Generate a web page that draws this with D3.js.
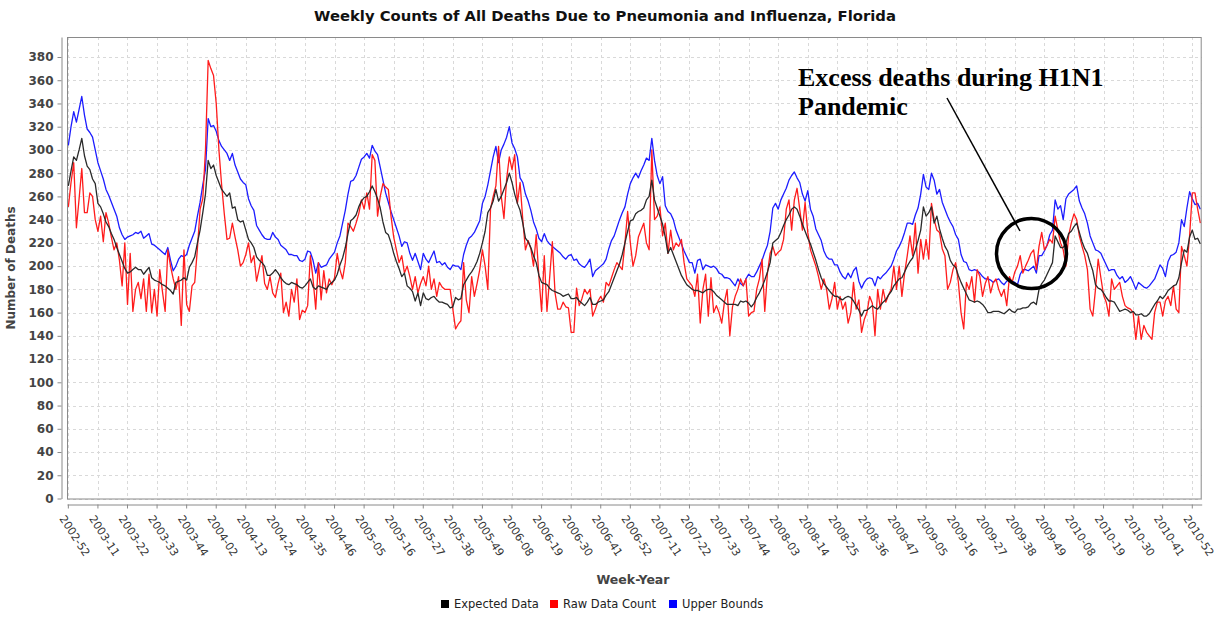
<!DOCTYPE html>
<html>
<head>
<meta charset="utf-8">
<script src="https://cdn.jsdelivr.net/npm/d3@7"></script>
<style>
  body { margin: 0; background: #fff; }
  text { font-family: "DejaVu Sans", "Liberation Sans", Arial, sans-serif; }
</style>
</head>
<body>
<svg id="chart" width="1217" height="617"></svg>
<script>
// years covered with first and last week shown
const years = [2002, 2003, 2004, 2005, 2006, 2007, 2008, 2009, 2010, 2011];
const firstWeek = [52, 1, 1, 1, 1, 1, 1, 1, 1, 1];
const lastWeek = [52, 53, 52, 52, 52, 52, 53, 52, 52, 3];

const tickLabels = [
  "2002-52", "2003-11", "2003-22", "2003-33", "2003-44", "2004-02", "2004-13", "2004-24",
  "2004-35", "2004-46", "2005-05", "2005-16", "2005-27", "2005-38", "2005-49", "2006-08",
  "2006-19", "2006-30", "2006-41", "2006-52", "2007-11", "2007-22", "2007-33", "2007-44",
  "2008-03", "2008-14", "2008-25", "2008-36", "2008-47", "2009-05", "2009-16", "2009-27",
  "2009-38", "2009-49", "2010-08", "2010-19", "2010-30", "2010-41", "2010-52"
];

const yTicks = [0, 20, 40, 60, 80, 100, 120, 140, 160, 180, 200, 220, 240, 260, 280, 300, 320, 340, 360, 380];

// Upper Bounds (blue)
const upperBounds = [
  304,320,333,324,335,346,330,318,315,311,300,289,282,275,266,261,255,249,243,233,
  227,223,225,226,227,229,228,230,224,226,228,219,218,216,214,212,210,216,205,196,
  200,206,209,208,210,218,224,230,243,255,270,283,327,320,321,316,308,303,300,297,
  291,297,287,281,275,272,270,258,252,248,235,231,227,224,223,223,229,225,223,218,216,
  214,210,
  210,209,209,205,204,206,213,212,205,194,203,199,200,201,206,209,212,220,226,237,
  248,262,273,274,278,285,292,294,297,293,304,299,296,285,274,263,255,247,240,233,
  226,217,221,
  220,211,205,211,204,197,211,206,203,208,213,203,204,201,203,199,197,201,200,200,
  197,210,218,224,226,229,234,239,254,260,270,282,294,303,289,300,305,311,320,306,
  301,294,
  276,272,262,256,248,238,232,224,221,228,222,219,217,215,213,211,208,206,209,210,
  205,206,202,200,199,202,206,191,196,198,200,202,206,215,222,226,233,240,246,251,
  262,271,276,
  280,276,282,287,293,291,310,291,278,271,277,252,247,245,240,231,225,219,213,208,203,
  203,194,205,206,197,201,200,199,200,198,194,193,190,190,189,186,183,189,185,183,
  189,193,
  191,191,195,200,205,212,218,230,250,254,249,257,262,267,274,278,281,276,272,262,
  256,265,249,243,232,227,222,213,208,206,206,201,201,195,191,189,194,190,196,199,
  187,181,186,
  189,190,189,183,191,189,192,194,197,200,206,213,217,222,229,237,237,236,244,250,
  262,279,268,266,280,274,262,266,255,249,243,238,234,227,223,210,204,203,197,196,
  197,196,
  194,191,189,189,188,186,188,189,186,184,187,189,187,186,184,193,197,197,196,198,200,
  194,209,209,213,218,227,231,257,249,252,240,258,262,264,266,269,256,250,245,237,
  226,220,
  214,213,211,206,201,196,197,197,192,189,191,186,188,191,186,180,186,184,182,181,
  183,186,189,195,201,198,191,204,209,210,212,220,240,234,250,264,258,253,254,249
];

// Expected Data (black)
const expectedData = [
  269,282,294,291,300,310,295,286,283,275,271,254,251,245,238,234,228,223,216,210,
  204,198,194,195,197,199,197,197,193,196,199,190,188,187,186,184,183,181,179,176,
  186,187,188,190,188,199,203,208,220,231,246,262,291,284,287,278,272,266,263,260,
  263,250,251,240,238,239,231,223,220,216,208,205,203,200,192,192,194,197,194,190,187,
  185,184,
  186,185,184,182,181,183,186,189,182,180,183,182,181,180,184,186,188,193,201,207,
  216,228,239,241,244,251,256,259,260,264,269,264,258,250,238,229,227,220,211,204,
  198,191,194,
  183,181,178,170,177,166,177,172,171,173,174,171,169,169,168,167,164,165,173,171,
  172,184,188,192,195,199,204,211,220,230,246,250,256,266,256,260,266,272,280,272,
  262,254,
  248,237,224,221,216,209,203,192,186,185,184,181,179,178,177,176,174,175,176,172,
  172,173,170,168,166,169,173,167,167,169,170,171,175,178,184,190,196,202,210,220,
  230,239,240,
  245,247,248,250,257,260,274,257,250,243,236,225,211,216,210,204,198,192,188,184,182,
  180,179,179,178,177,179,180,180,178,175,173,171,169,167,167,167,167,166,170,169,
  170,168,
  165,168,173,177,182,188,195,203,220,222,224,229,235,240,244,249,251,249,243,236,
  230,224,219,212,205,197,190,185,182,179,176,174,174,172,171,173,174,173,170,166,
  162,157,162,
  162,164,166,164,163,166,169,171,175,178,183,186,189,190,195,200,204,207,214,222,
  231,251,243,246,251,237,243,232,224,217,213,205,201,199,192,186,181,176,171,170,
  169,170,
  169,167,164,160,160,161,161,161,160,159,161,163,161,160,163,163,164,164,165,168,169,
  167,180,185,188,193,198,203,226,221,216,216,220,228,230,234,237,229,221,215,211,
  203,196,
  184,181,180,177,173,170,170,169,165,161,162,163,162,160,161,158,158,159,157,157,
  159,163,167,170,174,172,175,179,181,183,184,190,203,214,212,225,231,223,224,219
];

// Raw Data Count (red)
const rawDataCount = [
  251,272,289,233,258,284,246,246,263,260,240,230,243,221,246,237,225,214,220,205,
  183,220,167,211,161,180,186,172,189,161,193,160,180,157,197,178,161,214,200,189,
  180,191,149,214,167,161,183,186,215,249,258,300,377,370,364,340,300,270,245,223,
  224,237,225,214,200,203,210,220,203,209,187,198,209,185,180,191,177,173,185,194,160,
  169,157,
  180,169,189,154,162,160,166,209,189,163,203,171,196,177,189,184,190,211,197,189,
  203,237,234,230,237,245,257,249,263,249,296,291,243,260,271,268,266,243,225,214,
  203,209,194,
  200,191,180,191,177,185,191,183,200,180,189,174,186,182,180,180,180,163,146,150,
  153,203,171,160,191,174,185,197,214,200,180,249,260,269,303,260,241,275,294,283,
  296,254,
  272,240,214,222,215,200,227,191,161,209,161,190,221,177,163,163,169,165,164,143,
  143,181,166,172,180,176,180,157,163,170,174,169,186,183,190,197,203,200,197,220,
  247,220,200,
  209,225,231,237,220,214,300,240,243,251,226,237,211,231,214,220,217,223,203,189,186,
  183,174,193,151,180,193,157,190,160,166,160,151,169,180,140,165,174,180,189,183,
  189,157,
  160,161,180,189,206,161,194,211,217,209,212,214,223,249,257,231,257,267,249,231,
  255,229,214,207,200,191,180,189,180,163,172,186,163,174,163,169,151,160,186,163,
  171,143,154,
  160,174,168,140,180,163,180,169,175,180,200,180,200,174,194,209,226,209,237,194,
  223,206,223,206,254,240,231,229,215,209,180,186,197,203,186,160,146,186,180,191,
  169,197,
  191,174,185,191,177,186,189,180,174,180,166,191,186,195,200,209,194,200,205,211,214,
  197,217,229,214,218,223,220,243,231,220,214,200,226,237,245,240,226,217,209,197,
  163,157,
  180,206,190,175,169,157,189,180,183,186,174,166,164,163,160,137,157,137,149,143,
  140,137,160,169,169,157,170,174,166,183,163,160,217,209,200,226,263,263,249,237
];

// week-year categories
const weeks = [];
years.forEach((yr, k) => {
  for (let w = firstWeek[k]; w <= lastWeek[k]; w++) {
    weeks.push(yr + "-" + String(w).padStart(2, "0"));
  }
});

const plot = { left: 67, right: 1201.7, top: 37, bottom: 498.5 };
const svg = d3.select("#chart");

const x = d3.scaleBand().domain(weeks).range([plot.left, plot.right]);
const cx = d => x(d) + x.bandwidth() / 2;
const y = d3.scaleLinear().domain([0, 397.2]).range([plot.bottom, plot.top]);

// title
svg.append("text")
  .attr("x", 605).attr("y", 21)
  .attr("text-anchor", "middle")
  .attr("font-size", 14.8).attr("font-weight", "bold").attr("fill", "#111")
  .text("Weekly Counts of All Deaths Due to Pneumonia and Influenza, Florida");

// grid
const grid = svg.append("g")
  .attr("stroke", "#d9d9d9")
  .attr("stroke-width", 1)
  .attr("stroke-dasharray", "3,3");

grid.selectAll(".hgrid")
  .data(yTicks)
  .enter().append("line")
  .attr("x1", plot.left).attr("x2", plot.right)
  .attr("y1", d => Math.round(y(d)) + 0.5).attr("y2", d => Math.round(y(d)) + 0.5);

grid.selectAll(".vgrid")
  .data(tickLabels)
  .enter().append("line")
  .attr("x1", d => Math.round(cx(d)) + 0.5).attr("x2", d => Math.round(cx(d)) + 0.5)
  .attr("y1", plot.top).attr("y2", plot.bottom);

// series lines
const line = d3.line()
  .x((d, i) => cx(weeks[i]))
  .y(d => y(d));

const series = [
  { values: upperBounds, color: "#1c1cff" },
  { values: rawDataCount, color: "#ff1c1c" },
  { values: expectedData, color: "#2a2a2a" }
];

series.forEach(s => {
  svg.append("path")
    .datum(s.values)
    .attr("fill", "none")
    .attr("stroke", s.color)
    .attr("stroke-width", 1.3)
    .attr("stroke-linejoin", "round")
    .attr("d", line);
});

// plot border
svg.append("rect")
  .attr("x", plot.left + 0.5).attr("y", plot.top + 0.5)
  .attr("width", plot.right - plot.left - 1).attr("height", plot.bottom - plot.top)
  .attr("fill", "none")
  .attr("stroke", "#8a8a8a");

// y axis
const yAxis = d3.axisLeft(y).tickValues(yTicks).tickSize(4).tickSizeOuter(0).tickPadding(4);
const yAxisGroup = svg.append("g")
  .attr("transform", "translate(61.5,0)")
  .call(yAxis);
yAxisGroup.select(".domain").attr("stroke", "#8a8a8a");
yAxisGroup.selectAll(".tick line").attr("stroke", "#8a8a8a");
yAxisGroup.selectAll("text")
  .attr("font-weight", "bold").attr("fill", "#444")
  .style("font-size", "12px")
  .style("font-family", "'DejaVu Sans', sans-serif");

// x axis
const xAxis = d3.axisBottom(x).tickValues(tickLabels).tickSize(4).tickSizeOuter(0);
const xAxisGroup = svg.append("g")
  .attr("transform", "translate(0,504.5)")
  .call(xAxis);
xAxisGroup.select(".domain").attr("stroke", "#8a8a8a");
xAxisGroup.selectAll(".tick line").attr("stroke", "#8a8a8a");
xAxisGroup.selectAll("text")
  .attr("x", 0).attr("y", 0).attr("dy", "0.35em")
  .attr("text-anchor", "start")
  .attr("transform", "translate(-6,12) rotate(57)")
  .attr("fill", "#333")
  .style("font-size", "11px")
  .style("font-family", "'DejaVu Sans', sans-serif");

// axis titles
svg.append("text")
  .attr("transform", "translate(15,268) rotate(-90)")
  .attr("text-anchor", "middle")
  .attr("font-size", 12).attr("font-weight", "bold").attr("fill", "#444")
  .text("Number of Deaths");

svg.append("text")
  .attr("x", 633).attr("y", 584)
  .attr("text-anchor", "middle")
  .attr("font-size", 12.5).attr("font-weight", "bold").attr("fill", "#444")
  .text("Week-Year");

// legend
const legendItems = [
  { label: "Expected Data", color: "#000000", x: 441 },
  { label: "Raw Data Count", color: "#ff0000", x: 550 },
  { label: "Upper Bounds", color: "#0000ff", x: 669 }
];
const legend = svg.append("g");
legendItems.forEach(d => {
  legend.append("rect")
    .attr("x", d.x).attr("y", 600).attr("width", 8).attr("height", 8)
    .attr("fill", d.color);
  legend.append("text")
    .attr("x", d.x + 13).attr("y", 608)
    .attr("font-size", 11.5).attr("fill", "#222")
    .text(d.label);
});

// annotation
const note = svg.append("g")
  .style("font-family", "'Liberation Serif', 'Times New Roman', serif")
  .style("font-weight", "bold").style("font-size", "26px")
  .attr("fill", "#000");
note.append("text").attr("x", 798).attr("y", 86)
  .style("font-family", "'Liberation Serif', 'Times New Roman', serif")
  .text("Excess deaths during H1N1");
note.append("text").attr("x", 798).attr("y", 115)
  .style("font-family", "'Liberation Serif', 'Times New Roman', serif")
  .text("Pandemic");

svg.append("line")
  .attr("x1", 947).attr("y1", 98).attr("x2", 1020).attr("y2", 231)
  .attr("stroke", "#000").attr("stroke-width", 1.5);

svg.append("ellipse")
  .attr("cx", 1031.5).attr("cy", 253.5).attr("rx", 35).attr("ry", 35)
  .attr("fill", "none").attr("stroke", "#000").attr("stroke-width", 3.5);
</script>
</body>
</html>
